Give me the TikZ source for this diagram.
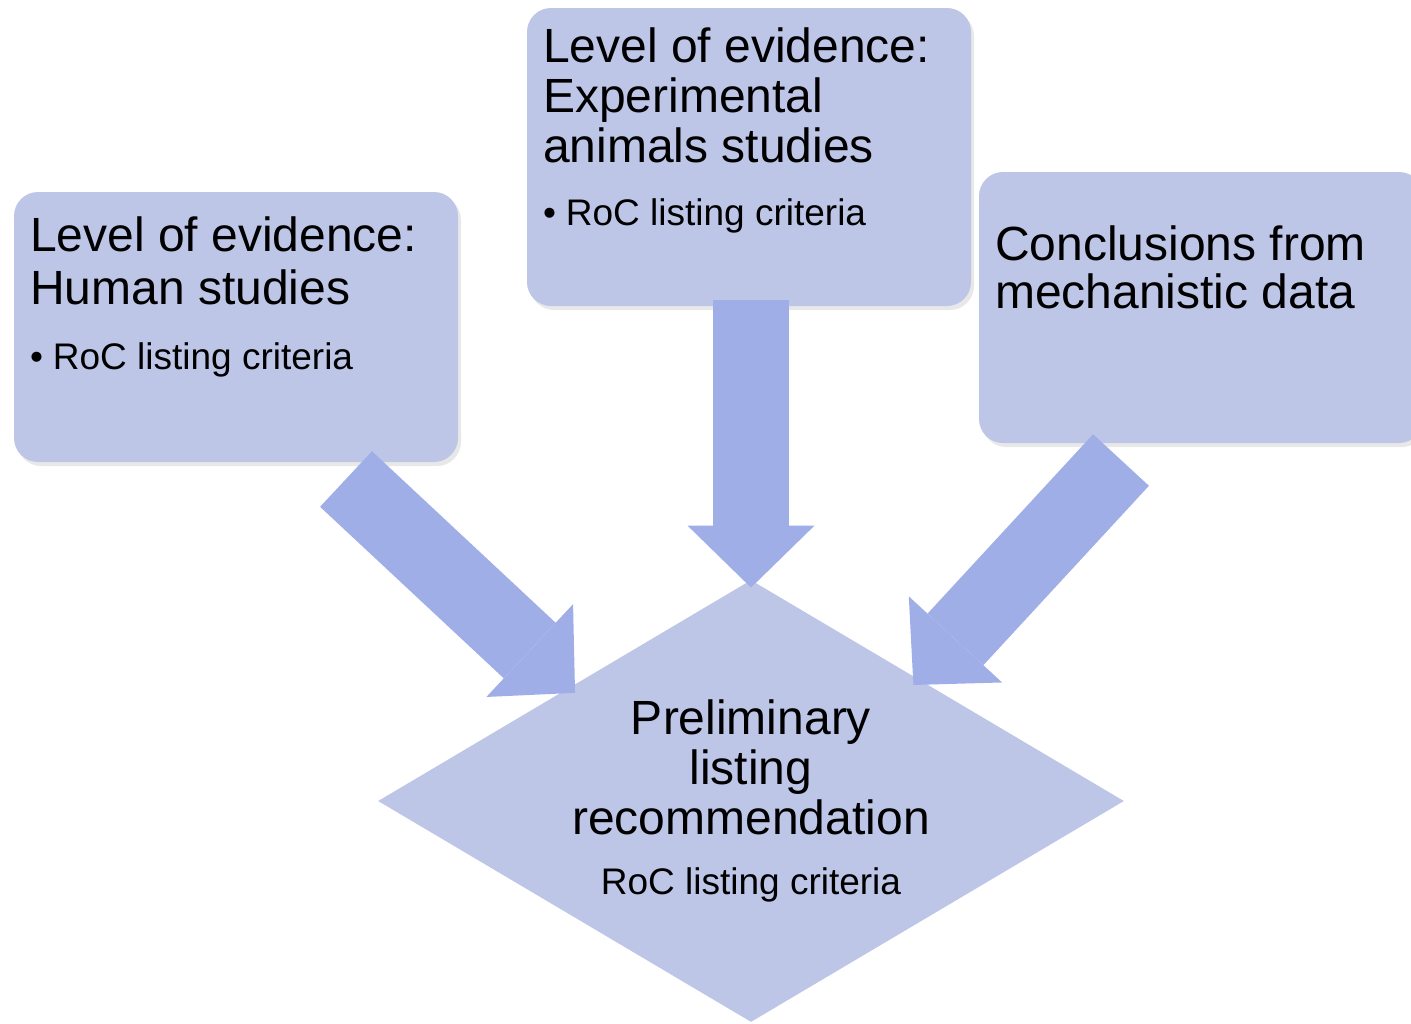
\documentclass[tikz,border=0pt]{standalone}
\usepackage{fontspec}
\setmainfont{Liberation Sans}
\usetikzlibrary{shapes.geometric,arrows.meta,shadows}
\definecolor{panel}{HTML}{BEC6E8}
\definecolor{flow}{HTML}{A0AEE8}
\newcommand{\headfont}[1]{\fontsize{24pt}{#1}\selectfont}
\newcommand{\critfont}{\fontsize{18.5pt}{22pt}\selectfont}
\newcommand{\boxtext}[3]{\parbox[c][#1][t]{206pt}{\vspace*{#2}#3}}

\begin{document}
\begin{tikzpicture}[x=0.5pt,y=-0.5pt,
box/.style={fill=panel,rounded corners=12pt,inner xsep=8pt,inner ysep=0pt,minimum width=222pt,drop shadow={opacity=0.18,shadow xshift=1.5pt,shadow yshift=-2pt}},
crit/.style={diamond,fill=panel,shape aspect=1.7,inner sep=0pt,minimum width=373pt,minimum height=221pt,align=center,font={\headfont{25pt}}},
fat/.style={draw=flow,line width=38pt,-{Triangle[width=63.5pt,length=31pt,line width=0pt]},shorten >=-4pt}]
\useasboundingbox (0,0) rectangle (1411,1023);
% evidence boxes
\node[box,minimum height=135pt] (human) at (236,327) {\boxtext{135pt}{12.5pt}{{\headfont{26.5pt}Level of evidence:\\Human studies\par}\vspace{10.5pt}{\critfont\textbullet\hspace{5pt}RoC listing criteria\par}}};
\node[box,minimum height=149pt] (animal) at (749,157) {\boxtext{149pt}{10pt}{{\headfont{25pt}Level of evidence:\\Experimental\\animals studies\par}\vspace{9.5pt}{\critfont\textbullet\hspace{5pt}RoC listing criteria\par}}};
\node[box,minimum height=135.5pt] (mech) at (1201,307.5) {\boxtext{135.5pt}{27pt}{{\headfont{24pt}Conclusions from\\mechanistic data\par}}};
% recommendation
\node[crit] (prelim) at (751,801) {Preliminary\\listing\\recommendation\\[5pt]{\critfont RoC listing criteria}};
\coordinate (htail) at (346,479);
\coordinate (atail) at (751,300);
\coordinate (mtail) at (1121,460);
\draw[fat] (htail)--(prelim.148);
\draw[fat] (atail)--(prelim.north);
\draw[fat] (mtail)--(prelim.36);
\end{tikzpicture}
\end{document}
